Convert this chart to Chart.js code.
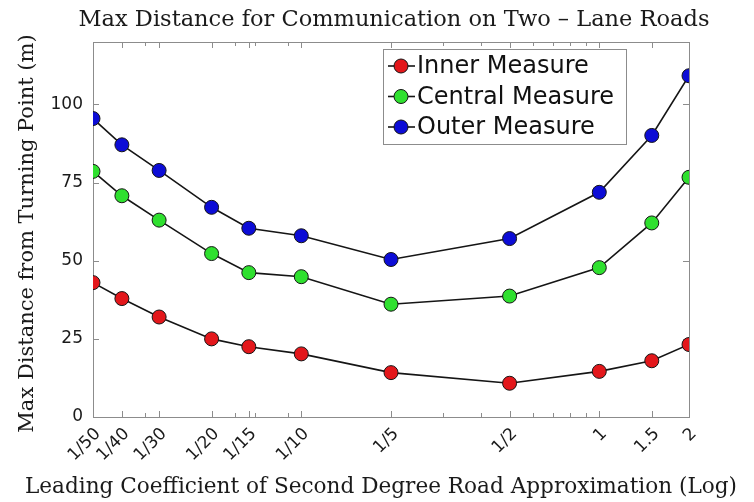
<!DOCTYPE html>
<html lang="en">
<head>
  <meta charset="UTF-8" />
  <title>Max Distance for Communication</title>
  <style>
    body { margin: 0; background: #fff; }
    canvas { display: block; }
  </style>
</head>
<body>
  <canvas id="distChart" width="754" height="502"></canvas>

  <script src="https://cdn.jsdelivr.net/npm/chart.js"></script>
  <script>
    // leading coefficient values (log axis) and their labels
    const coefValues = [1/50, 1/40, 1/30, 1/20, 1/15, 1/10, 1/5, 1/2, 1, 1.5, 2];
    const coefLabels = ['1/50', '1/40', '1/30', '1/20', '1/15', '1/10', '1/5', '1/2', '1', '1.5', '2'];
    const minorTicks = [0.03, 0.06, 0.07, 0.09, 0.3, 0.4, 0.6, 0.7, 0.8, 0.9];
    const yTicks = [0, 25, 50, 75, 100];

    // max distance (m)
    const innerMeasure   = [43.0, 37.9, 32.0, 25.0, 22.5, 20.2, 14.2, 10.8, 14.6, 18.0, 23.2];
    const centralMeasure = [78.6, 70.8, 63.0, 52.3, 46.2, 44.9, 36.1, 38.7, 47.8, 62.1, 76.7];
    const outerMeasure   = [95.5, 87.1, 78.9, 67.1, 60.4, 58.0, 50.4, 57.1, 71.9, 90.1, 109.2];

    const seriesNames = ['Inner Measure', 'Central Measure', 'Outer Measure'];
    const seriesColors = ['#e3171b', '#2fe02f', '#0c0cd6'];

    const mainTitle = 'Max Distance for Communication on Two \u2013 Lane Roads';
    const xTitle = 'Leading Coefficient of Second Degree Road Approximation (Log)';
    const yTitle = 'Max Distance from Turning Point (m)';

    const sansFont = 'DejaVu Sans';
    const serifFont = 'DejaVu Serif';
    const axisColor = '#8c8c8c';
    const textColor = '#1a1a1a';

    function toPoints(values) {
      return coefValues.map((x, i) => ({ x: x, y: values[i] }));
    }

    function makeDataset(name, values, color) {
      return {
        label: name,
        data: toPoints(values),
        borderColor: '#151515',
        borderWidth: 1.6,
        pointBackgroundColor: color,
        pointBorderColor: '#151515',
        pointBorderWidth: 1,
        pointRadius: 7,
        tension: 0
      };
    }

    // box around the plot with inward tick marks, like matlab
    const frameTicks = {
      id: 'frameTicks',
      beforeDatasetsDraw(chart) {
        const { ctx, chartArea, scales } = chart;
        const { left, right, top, bottom } = chartArea;
        ctx.save();
        ctx.strokeStyle = axisColor;
        ctx.lineWidth = 1;
        ctx.strokeRect(left + 0.5, top + 0.5, right - left, bottom - top);

        ctx.beginPath();
        coefValues.concat(minorTicks).forEach((v, i) => {
          const len = i < coefValues.length ? 6 : 4;
          const px = Math.round(scales.x.getPixelForValue(v)) + 0.5;
          ctx.moveTo(px, bottom);
          ctx.lineTo(px, bottom - len);
          ctx.moveTo(px, top);
          ctx.lineTo(px, top + len);
        });
        yTicks.forEach(v => {
          const py = Math.round(scales.y.getPixelForValue(v)) + 0.5;
          ctx.moveTo(left, py);
          ctx.lineTo(left + 6, py);
          ctx.moveTo(right, py);
          ctx.lineTo(right - 6, py);
        });
        ctx.stroke();
        ctx.restore();
      }
    };

    // titles drawn by hand, chart.js squeezes them to the axis length
    const titles = {
      id: 'titles',
      afterDraw(chart) {
        const { ctx, chartArea } = chart;
        const midX = (chartArea.left + chartArea.right) / 2;
        ctx.save();
        ctx.fillStyle = textColor;
        ctx.textAlign = 'center';
        ctx.textBaseline = 'middle';

        ctx.font = '22.5px "' + serifFont + '"';
        ctx.fillText(mainTitle, midX + 3, 20);

        ctx.font = '21.6px "' + serifFont + '"';
        ctx.fillText(xTitle, midX - 10, 487);

        ctx.translate(28, (chartArea.top + chartArea.bottom) / 2 + 4);
        ctx.rotate(-Math.PI / 2);
        ctx.font = '21px "' + serifFont + '"';
        ctx.fillText(yTitle, 0, 0);
        ctx.restore();
      }
    };

    // legend drawn inside the plot, line with marker through it
    const insideLegend = {
      id: 'insideLegend',
      afterDraw(chart) {
        const { ctx, chartArea } = chart;
        const bx = chartArea.left + 290;
        const by = chartArea.top + 7;
        const bw = 243;
        const bh = 95;
        ctx.save();
        ctx.fillStyle = '#fff';
        ctx.fillRect(bx, by, bw, bh);
        ctx.strokeStyle = axisColor;
        ctx.lineWidth = 1;
        ctx.strokeRect(bx + 0.5, by + 0.5, bw, bh);

        ctx.font = '24px "' + sansFont + '"';
        ctx.textBaseline = 'middle';
        seriesNames.forEach((name, i) => {
          const ry = by + 17 + i * 30.5;
          ctx.strokeStyle = '#151515';
          ctx.lineWidth = 1.6;
          ctx.beginPath();
          ctx.moveTo(bx + 5, ry);
          ctx.lineTo(bx + 32, ry);
          ctx.stroke();
          ctx.beginPath();
          ctx.arc(bx + 18, ry, 7, 0, Math.PI * 2);
          ctx.fillStyle = seriesColors[i];
          ctx.fill();
          ctx.lineWidth = 1;
          ctx.stroke();
          ctx.fillStyle = '#111';
          ctx.fillText(name, bx + 34, ry + 1);
        });
        ctx.restore();
      }
    };

    const ctx = document.getElementById('distChart').getContext('2d');
    const chart = new Chart(ctx, {
      type: 'line',
      data: {
        datasets: [
          makeDataset(seriesNames[0], innerMeasure, seriesColors[0]),
          makeDataset(seriesNames[1], centralMeasure, seriesColors[1]),
          makeDataset(seriesNames[2], outerMeasure, seriesColors[2])
        ]
      },
      options: {
        responsive: false,
        animation: false,
        devicePixelRatio: 1,
        layout: { padding: { left: 0, right: 65, top: 42, bottom: 0 } },
        plugins: {
          legend: { display: false },
          tooltip: { enabled: false },
          title: { display: false }
        },
        scales: {
          x: {
            type: 'logarithmic',
            min: 0.02,
            max: 2,
            afterBuildTicks: scale => {
              scale.ticks = coefValues.map(v => ({ value: v }));
            },
            afterFit: scale => { scale.height = 85; },
            ticks: {
              autoSkip: false,
              minRotation: 45,
              maxRotation: 45,
              padding: 7,
              labelOffset: 5,
              color: textColor,
              font: { family: sansFont, size: 17 },
              callback: (value, index) => coefLabels[index]
            },
            grid: { drawOnChartArea: false, drawTicks: false },
            border: { display: false }
          },
          y: {
            min: 0,
            max: 120,
            afterBuildTicks: scale => {
              scale.ticks = yTicks.map(v => ({ value: v }));
            },
            afterFit: scale => { scale.width = 93; },
            ticks: {
              padding: 10,
              color: textColor,
              font: { family: sansFont, size: 17 }
            },
            grid: { drawOnChartArea: false, drawTicks: false },
            border: { display: false }
          }
        }
      },
      plugins: [frameTicks, titles, insideLegend]
    });
  </script>
</body>
</html>
